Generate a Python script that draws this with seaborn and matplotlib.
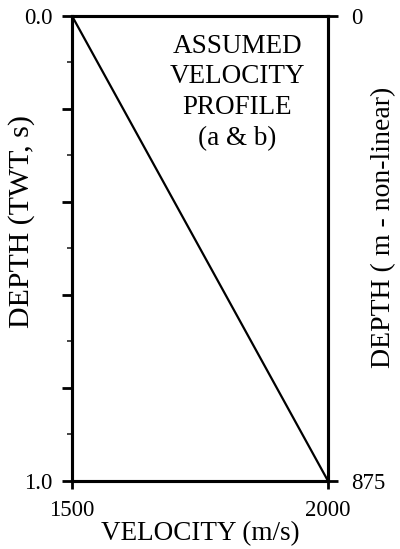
import matplotlib
matplotlib.use("Agg")
import matplotlib.pyplot as plt
import seaborn as sns
import pandas as pd
import numpy as np

velocity = [1500, 2000]
twt = [0.0, 1.0]
depth_ticks = [0, 875]
depth_labels = ["0", "875"]

sns.set_theme(style="white")
plt.rcParams['font.family'] = ['Liberation Serif', 'DejaVu Serif']

df = pd.DataFrame({"velocity": velocity, "twt": twt})

fig = plt.figure(figsize=(4.0, 5.49), dpi=100)
ax = fig.add_axes([0.18, 0.124, 0.64, 0.847])
sns.lineplot(data=df, x="velocity", y="twt", ax=ax, color="black", linewidth=1.6)
ax.set_xlim(1500, 2000)
ax.set_ylim(1.0, 0.0)
ax.set_xticks([1500, 2000])
ax.set_xticklabels(["1500", "2000"])
ax.set_yticks([0.0, 0.2, 0.4, 0.6, 0.8, 1.0])
ax.set_yticklabels(["0.0", "", "", "", "", "1.0"])
ax.set_yticks(np.arange(0.1, 1.0, 0.2), minor=True)
ax.tick_params(axis='y', which='major', direction='out', length=7, width=2, labelsize=16.5, pad=7, left=True, colors='black')
ax.tick_params(axis='y', which='minor', direction='out', length=3.6, width=1.2, left=True)
ax.tick_params(axis='x', which='major', direction='out', length=5.5, width=2, labelsize=16.5, pad=8.5, bottom=True, colors='black')
ax.set_xlabel("VELOCITY (m/s)", fontsize=19.5, color='black', labelpad=0)
ax.set_ylabel("DEPTH (TWT, s)", fontsize=21.5, color='black')
ax.yaxis.set_label_coords(-0.145, 0.557)
for s in ax.spines.values():
    s.set_linewidth(2.2)
    s.set_color('black')

ax2 = ax.twinx()
ax2.set_ylim(875, 0)
ax2.set_yticks(depth_ticks)
ax2.set_yticklabels(depth_labels)
ax2.tick_params(axis='y', direction='out', length=7, width=2, labelsize=16.5, pad=10, right=True, colors='black')
ax2.set_ylabel("DEPTH ( m - non-linear)", fontsize=20, color='black')
ax2.yaxis.set_label_coords(1.17, 0.545)
for s in ax2.spines.values():
    s.set_linewidth(2.2)
    s.set_color('black')

ax.text(0.645, 0.962, "ASSUMED\nVELOCITY\nPROFILE\n(a & b)", transform=ax.transAxes,
        ha='center', va='top', fontsize=19.5, linespacing=1.3, color='black')

fig.savefig("out.png", dpi=100)
